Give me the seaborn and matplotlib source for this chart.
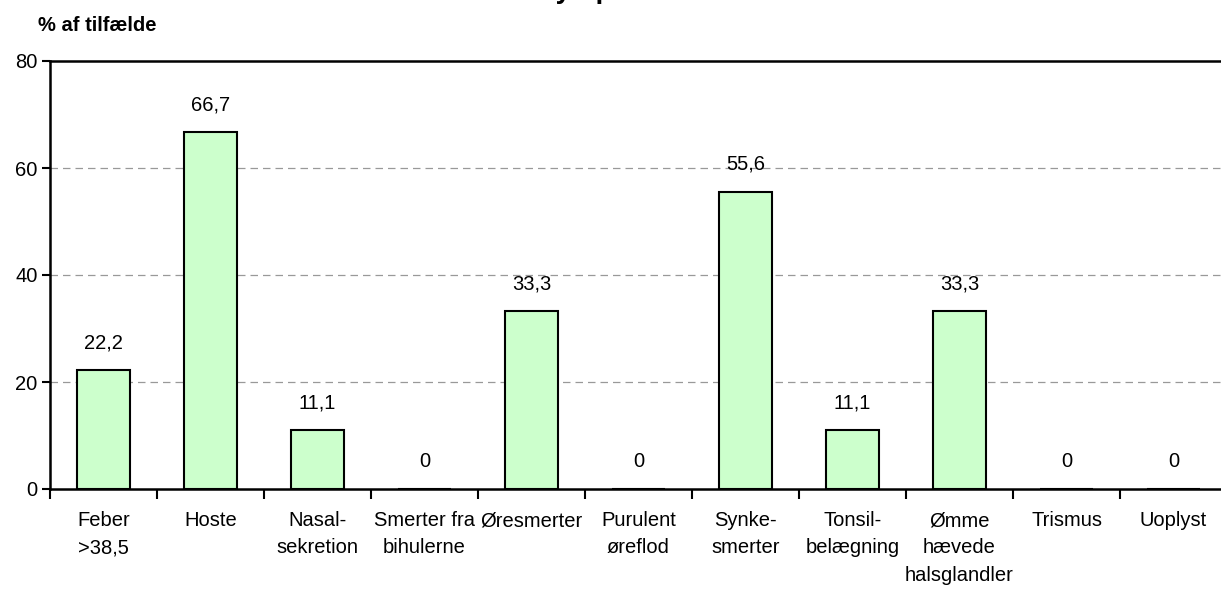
import numpy as np
import pandas as pd
import seaborn as sns
import matplotlib.pyplot as plt

# data
categories = ["Feber\n>38,5", "Hoste", "Nasal-\nsekretion", "Smerter fra\nbihulerne",
              "Øresmerter", "Purulent\nøreflod", "Synke-\nsmerter", "Tonsil-\nbelægning",
              "Ømme\nhævede\nhalsglandler", "Trismus", "Uoplyst"]
values = [22.2, 66.7, 11.1, 0, 33.3, 0, 55.6, 11.1, 33.3, 0, 0]
value_labels = ["22,2", "66,7", "11,1", "0", "33,3", "0", "55,6", "11,1", "33,3", "0", "0"]
y_ticks = [0, 20, 40, 60, 80]

df = pd.DataFrame({"kategori": categories, "pct": values})

sns.set_style("white")
plt.rcParams['font.family'] = ['Liberation Sans', 'DejaVu Sans']
plt.rcParams['text.color'] = 'black'
plt.rcParams['xtick.color'] = 'black'
plt.rcParams['ytick.color'] = 'black'

fig = plt.figure(figsize=(12.21, 5.91), dpi=100)
ax = fig.add_axes([50 / 1221, 1 - 489 / 591, 1177 / 1221, 428 / 591])

sns.barplot(data=df, x="kategori", y="pct", color="#CCFFCC", edgecolor="black",
            linewidth=1.5, width=0.5, saturation=1, ax=ax)

ax.set_ylim(0, 80)
ax.set_xlim(-0.5, len(categories) - 0.5)
ax.set_yticks(y_ticks)
ax.set_yticklabels([str(t) for t in y_ticks], fontsize=14.5)
ax.set_xlabel("")
ax.set_ylabel("")

# dashed gridlines, top line solid
for t in y_ticks[1:-1]:
    ax.axhline(t, color="#999999", linestyle=(0, (6, 4)), linewidth=0.9, zorder=0)

for s in ["left", "bottom", "top"]:
    ax.spines[s].set_visible(True)
    ax.spines[s].set_color("black")
    ax.spines[s].set_linewidth(1.8)
ax.spines["right"].set_visible(False)

ax.tick_params(axis="y", length=6, width=1.5, direction="out", left=True, pad=3)
ax.set_xticks(np.arange(len(categories)))
ax.set_xticklabels(categories, fontsize=14.5, linespacing=1.55)
ax.tick_params(axis="x", length=0, pad=16)
ax.set_xticks(np.arange(len(categories)) - 0.5, minor=True)
ax.tick_params(axis="x", which="minor", length=7, width=1.5,
               direction="out", bottom=True)

for i, (v, lab) in enumerate(zip(values, value_labels)):
    ax.annotate(lab, xy=(i, v), xytext=(0, 19.5), textcoords="offset points",
                ha="center", va="center", fontsize=14.5)

fig.text(38 / 1221, 1 - 31 / 591, "% af tilfælde", fontsize=14.5, fontweight="bold",
         ha="left", va="baseline")
fig.text(537 / 1221, 1 + 2 / 591, "Symptomer", fontsize=20, fontweight="bold",
         ha="left", va="baseline")

fig.savefig("out.png", dpi=100, facecolor="white")
